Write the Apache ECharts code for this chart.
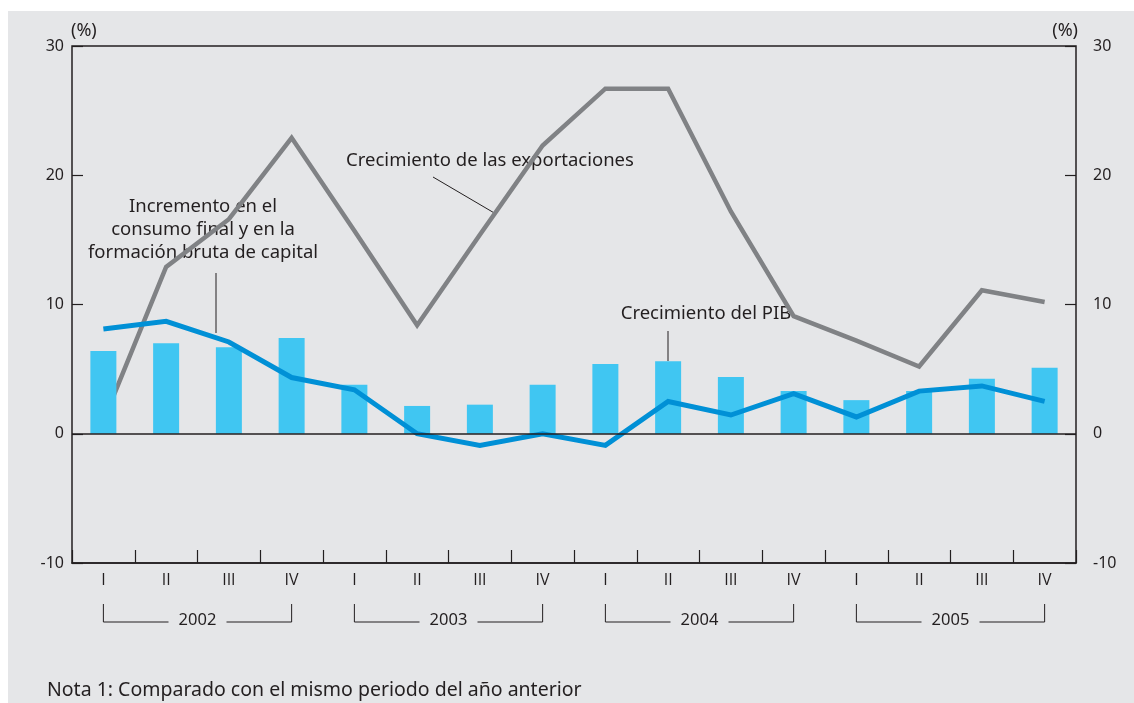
<!DOCTYPE html>
<html>
<head>
<meta charset="utf-8">
<script src="https://cdn.jsdelivr.net/npm/echarts@6/dist/echarts.min.js"></script>
<style>
  html, body { margin: 0; padding: 0; background: #ffffff; }
  #panel { position: absolute; left: 8px; top: 11px; width: 1126px; height: 692px; background: #e5e6e8; }
  #chart { position: absolute; left: 0; top: 0; width: 1134px; height: 703px; }
</style>
</head>
<body>
<div id="panel"></div>
<div id="chart"></div>
<script>
// ---- Data ----
const categories = ['I','II','III','IV','I','II','III','IV','I','II','III','IV','I','II','III','IV'];
const years = ['2002','2003','2004','2005'];
const pibGrowth    = [6.4, 7.0, 6.7, 7.4, 3.8, 2.15, 2.25, 3.8, 5.4, 5.6, 4.4, 3.3, 2.6, 3.3, 4.25, 5.1];
const exportGrowth = [1.0, 12.9, 16.6, 22.9, 15.7, 8.4, 15.4, 22.3, 26.7, 26.7, 17.2, 9.1, 7.2, 5.2, 11.1, 10.2];
const demandGrowth = [8.1, 8.7, 7.1, 4.35, 3.4, 0.0, -0.9, 0.0, -0.9, 2.5, 1.45, 3.1, 1.3, 3.3, 3.7, 2.5];
const yMin = -10, yMax = 30, yStep = 10;
const unitLabel = '(%)';
const noteText = 'Nota 1: Comparado con el mismo periodo del año anterior';
const labelExports = 'Crecimiento de las exportaciones';
const labelDemand = 'Incremento en el\nconsumo final y en la\nformación bruta de capital';
const labelPib = 'Crecimiento del PIB';

// ---- Styles ----
const INK = '#231f20';
const FONT = 'Noto Sans';
const FONT_ROMAN = 'Open Sans';

const chart = echarts.init(document.getElementById('chart'), null, { renderer: 'canvas' });

const yAxisCommon = {
  type: 'value', min: yMin, max: yMax, interval: yStep,
  axisLine: { show: false },
  splitLine: { show: false }
};

const option = {
  backgroundColor: 'transparent',
  animation: false,
  textStyle: { fontFamily: FONT },
  grid: {
    left: 72, right: 58, top: 46, bottom: 140,
    show: true, borderColor: INK, borderWidth: 1.5, backgroundColor: 'transparent'
  },
  xAxis: [{
    type: 'category',
    data: categories,
    boundaryGap: true,
    axisLine: { show: true, onZero: false, lineStyle: { color: INK, width: 1.5 } },
    axisTick: { show: true, inside: true, length: 13, lineStyle: { color: INK, width: 1.2 } },
    axisLabel: { color: INK, fontSize: 16, fontFamily: FONT_ROMAN, margin: 9, interval: 0 },
    splitLine: { show: false }
  }],
  yAxis: [
    Object.assign({}, yAxisCommon, {
      position: 'left',
      axisTick: { show: true, inside: true, length: 11, lineStyle: { color: INK, width: 1.2 } },
      axisLabel: { color: INK, fontSize: 16, fontFamily: FONT, margin: 8 }
    }),
    Object.assign({}, yAxisCommon, {
      position: 'right',
      axisTick: { show: true, inside: true, length: 11, lineStyle: { color: INK, width: 1.2 } },
      axisLabel: { color: INK, fontSize: 16, fontFamily: FONT, margin: 17 }
    })
  ],
  series: [
    {
      name: labelExports,
      type: 'line',
      data: exportGrowth,
      showSymbol: false,
      symbol: 'none',
      z: 1,
      lineStyle: { color: '#808285', width: 4.5, join: 'miter' }
    },
    {
      name: labelPib,
      type: 'bar',
      data: pibGrowth,
      barWidth: 26,
      z: 2,
      itemStyle: { color: '#40c6f2' },
      markLine: {
        silent: true,
        symbol: 'none',
        label: { show: false },
        lineStyle: { color: INK, width: 1.5, type: 'solid' },
        data: [{ yAxis: 0 }]
      }
    },
    {
      name: 'demanda',
      type: 'line',
      data: demandGrowth,
      showSymbol: false,
      symbol: 'none',
      z: 3,
      lineStyle: { color: '#0090d6', width: 5, join: 'miter' }
    }
  ]
};

chart.setOption(option);

// ---- Annotations & year brackets ----
const textStyle = (txt, size, family, lh) => ({ text: txt, fill: INK, font: size + 'px "' + (family || FONT) + '"', textAlign: 'center', textVerticalAlign: 'middle', lineHeight: lh || 23 });
const graphics = [];

const bracketTop = 604, bracketBottom = 622, halfGap = 29;
years.forEach((yr, i) => {
  const x1 = chart.convertToPixel({ xAxisIndex: 0 }, i * 4);
  const x2 = chart.convertToPixel({ xAxisIndex: 0 }, i * 4 + 3);
  const xm = (x1 + x2) / 2;
  const ls = { stroke: INK, lineWidth: 1 };
  graphics.push({ type: 'polyline', shape: { points: [[x1, bracketTop], [x1, bracketBottom], [xm - halfGap, bracketBottom]] }, style: Object.assign({ fill: null }, ls), silent: true });
  graphics.push({ type: 'polyline', shape: { points: [[xm + halfGap, bracketBottom], [x2, bracketBottom], [x2, bracketTop]] }, style: Object.assign({ fill: null }, ls), silent: true });
  graphics.push({ type: 'text', x: xm, y: bracketBottom - 2, style: textStyle(yr, 16.5), silent: true });
});

// unit labels above each y axis
const gridRect = chart.getModel().getComponent('grid').coordinateSystem.getRect();
graphics.push({ type: 'text', x: gridRect.x - 1, y: 31, style: Object.assign(textStyle(unitLabel, 18), { textAlign: 'left' }), silent: true });
graphics.push({ type: 'text', x: gridRect.x + gridRect.width + 2, y: 31, style: Object.assign(textStyle(unitLabel, 18), { textAlign: 'right' }), silent: true });

// label: exports
graphics.push({ type: 'text', x: 490, y: 161, style: textStyle(labelExports, 18.5), silent: true });
graphics.push({ type: 'line', shape: { x1: 433, y1: 177, x2: 496, y2: 214 }, style: { stroke: INK, lineWidth: 1 }, silent: true });
// label: demand
graphics.push({ type: 'text', x: 203, y: 230, style: textStyle(labelDemand, 18.5, FONT, 23), silent: true });
graphics.push({ type: 'line', shape: { x1: 216, y1: 273, x2: 216, y2: 333 }, style: { stroke: INK, lineWidth: 1 }, silent: true });
// label: PIB
graphics.push({ type: 'text', x: 706, y: 314, style: textStyle(labelPib, 18.5), silent: true });
graphics.push({ type: 'line', shape: { x1: 668, y1: 331, x2: 668, y2: 361 }, style: { stroke: INK, lineWidth: 1 }, silent: true });
// note
graphics.push({ type: 'text', x: 47, y: 690, style: { text: noteText, fill: INK, font: '19.5px "' + FONT + '"', textAlign: 'left', textVerticalAlign: 'middle' }, silent: true });

chart.setOption({ graphic: graphics });
</script>
</body>
</html>
